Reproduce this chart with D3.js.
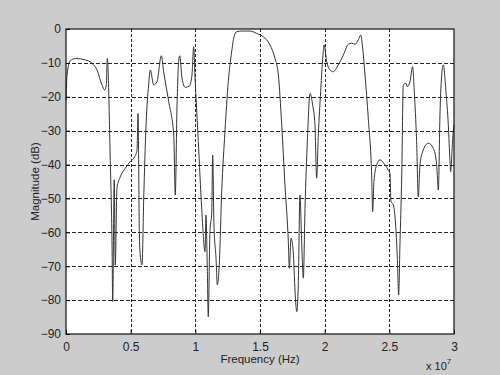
<!DOCTYPE html>
<html>
<head>
<meta charset="utf-8">
<script src="https://cdn.jsdelivr.net/npm/d3@7"></script>
<style>
  body { margin: 0; background: #cccccc; }
  svg { display: block; }
</style>
</head>
<body>
<div id="chart"></div>
<script>
// frequency in units of 1e7 Hz, magnitude in dB
const freq = [0.000, 0.008, 0.033, 0.072, 0.149, 0.201, 0.240, 0.278, 0.299, 0.312, 0.319, 0.343, 0.356, 0.361, 0.373, 0.381, 0.394, 0.420, 0.458, 0.497, 0.531, 0.549, 0.557, 0.567, 0.574, 0.588, 0.601, 0.619, 0.639, 0.652, 0.678, 0.704, 0.737, 0.755, 0.794, 0.833, 0.845, 0.858, 0.871, 0.879, 0.897, 0.922, 0.953, 0.974, 0.987, 0.997, 1.023, 1.049, 1.075, 1.082, 1.093, 1.100, 1.113, 1.127, 1.134, 1.144, 1.160, 1.170, 1.185, 1.204, 1.229, 1.255, 1.281, 1.299, 1.320, 1.358, 1.423, 1.474, 1.526, 1.577, 1.616, 1.642, 1.668, 1.693, 1.719, 1.727, 1.740, 1.757, 1.771, 1.784, 1.796, 1.809, 1.822, 1.835, 1.848, 1.866, 1.887, 1.907, 1.925, 1.938, 1.951, 1.969, 1.989, 1.995, 2.016, 2.041, 2.067, 2.105, 2.144, 2.183, 2.209, 2.235, 2.260, 2.279, 2.294, 2.312, 2.337, 2.364, 2.371, 2.381, 2.402, 2.428, 2.466, 2.492, 2.505, 2.513, 2.531, 2.552, 2.562, 2.572, 2.582, 2.596, 2.608, 2.629, 2.639, 2.660, 2.680, 2.693, 2.711, 2.724, 2.737, 2.762, 2.801, 2.840, 2.866, 2.879, 2.892, 2.905, 2.917, 2.938, 2.956, 2.969, 2.974, 2.990, 3.000];
const magnitude = [-21, -13.6, -9.4, -8.7, -9.1, -10.1, -12.1, -16.5, -18.0, -16.5, -8.7, -40, -63.7, -80.4, -44.5, -69.6, -47, -43.6, -41.1, -39.1, -37.7, -35.7, -24.9, -59.8, -66.7, -69.6, -49.9, -28.3, -16.5, -12.1, -16.5, -15.5, -7.9, -12.6, -21.4, -31.3, -49, -23.4, -9.6, -7.9, -14.5, -17.2, -16.9, -13.6, -5.2, -13.6, -33.2, -52.8, -65.7, -54.9, -71.6, -84.9, -59.8, -53.9, -37.2, -57.8, -67.7, -75.5, -69.6, -48, -30.3, -15.5, -6.7, -2.3, -0.8, -0.6, -0.6, -1.3, -2.3, -4.7, -8.7, -13.6, -28.3, -46, -62.7, -70.6, -61.7, -65.7, -77.5, -83.4, -75.5, -49, -62.7, -73.5, -52.9, -33.2, -19, -22.4, -28.3, -44, -31.3, -18.5, -6.7, -4.7, -9.6, -12.1, -12.6, -10.6, -7.7, -4.5, -4.2, -4.5, -3.2, -1.8, -5.7, -13.6, -26.3, -44, -53.9, -45, -40.1, -38.6, -40.1, -41.6, -42.6, -50.9, -51.9, -59.8, -67.7, -78.5, -63.7, -43.1, -16.5, -16, -17, -15.5, -11.1, -18.5, -33.2, -49.5, -40.1, -35.7, -33.7, -35.2, -40.1, -47.5, -24.4, -13.6, -10.6, -18.5, -28.3, -39.1, -42.1, -32.3, -28.3];

const xTicks = [0, 0.5, 1, 1.5, 2, 2.5, 3];
const xTickLabels = ["0", "0.5", "1", "1.5", "2", "2.5", "3"];
const yTicks = [0, -10, -20, -30, -40, -50, -60, -70, -80, -90];

const width = 500, height = 375;
const margin = { left: 66, top: 29, right: 46, bottom: 41 };

const svg = d3.select("#chart")
  .append("svg")
  .attr("width", width)
  .attr("height", height)
  .style("font-family", "'Liberation Sans', Arial, sans-serif");

svg.append("rect")
  .attr("width", width)
  .attr("height", height)
  .attr("fill", "#cccccc");

let x = d3.scaleLinear().domain([0, 3]).range([margin.left, width - margin.right]);
let y = d3.scaleLinear().domain([-90, 0]).range([height - margin.bottom, margin.top]);

// plot area
svg.append("rect")
  .attr("x", x(0))
  .attr("y", y(0))
  .attr("width", x(3) - x(0))
  .attr("height", y(-90) - y(0))
  .attr("fill", "#ffffff");

// grid lines
svg.append("g")
  .selectAll("line")
  .data(xTicks.slice(1, -1))
  .enter()
  .append("line")
  .attr("x1", d => Math.round(x(d)) + 0.5)
  .attr("x2", d => Math.round(x(d)) + 0.5)
  .attr("y1", y(0))
  .attr("y2", y(-90))
  .attr("stroke", "#222")
  .attr("stroke-dasharray", "3,2");

svg.append("g")
  .selectAll("line")
  .data(yTicks.slice(1, -1))
  .enter()
  .append("line")
  .attr("y1", d => Math.round(y(d)) + 0.5)
  .attr("y2", d => Math.round(y(d)) + 0.5)
  .attr("x1", x(0))
  .attr("x2", x(3))
  .attr("stroke", "#222")
  .attr("stroke-dasharray", "4,2");

// the curve
let line = d3.line()
  .x((d, i) => x(freq[i]))
  .y(d => y(d))
  .curve(d3.curveMonotoneX);

svg.append("path")
  .datum(magnitude)
  .attr("d", line)
  .attr("fill", "none")
  .attr("stroke", "#333")
  .attr("stroke-width", 1)
  .attr("stroke-linejoin", "round");

// axes (ticks inside, as matlab draws them)
let xAxis = d3.axisBottom(x)
  .tickValues(xTicks)
  .tickFormat((d, i) => xTickLabels[i])
  .tickSizeInner(-4)
  .tickSizeOuter(0)
  .tickPadding(8);

let yAxis = d3.axisLeft(y)
  .tickValues(yTicks)
  .tickSizeInner(-4)
  .tickSizeOuter(0)
  .tickPadding(5);

let gx = svg.append("g")
  .attr("transform", "translate(0," + y(-90) + ")")
  .call(xAxis);

let gy = svg.append("g")
  .attr("transform", "translate(" + x(0) + ",0)")
  .call(yAxis);

[gx, gy].forEach(g => {
  g.select(".domain").remove();
  g.selectAll("line").attr("stroke", "#111");
  g.selectAll("text")
    .attr("fill", "#222")
    .style("font-size", "12px")
    .style("font-family", "'Liberation Sans', Arial, sans-serif");
});

// box around plot
svg.append("rect")
  .attr("x", x(0))
  .attr("y", y(0))
  .attr("width", x(3) - x(0))
  .attr("height", y(-90) - y(0))
  .attr("fill", "none")
  .attr("stroke", "#111")
  .attr("stroke-width", 1.2);

// labels
svg.append("text")
  .attr("x", (x(0) + x(3)) / 2)
  .attr("y", 363)
  .attr("text-anchor", "middle")
  .attr("fill", "#222")
  .style("font-size", "11.5px")
  .text("Frequency (Hz)");

svg.append("text")
  .attr("transform", "translate(39," + (y(0) + y(-90)) / 2 + ") rotate(-90)")
  .attr("text-anchor", "middle")
  .attr("fill", "#222")
  .style("font-size", "11.5px")
  .text("Magnitude (dB)");

let expo = svg.append("text")
  .attr("x", 426)
  .attr("y", 370)
  .attr("fill", "#222")
  .style("font-size", "11px");
expo.append("tspan").text("x 10");
expo.append("tspan")
  .attr("dy", -6)
  .style("font-size", "8px")
  .text("7");
</script>
</body>
</html>
